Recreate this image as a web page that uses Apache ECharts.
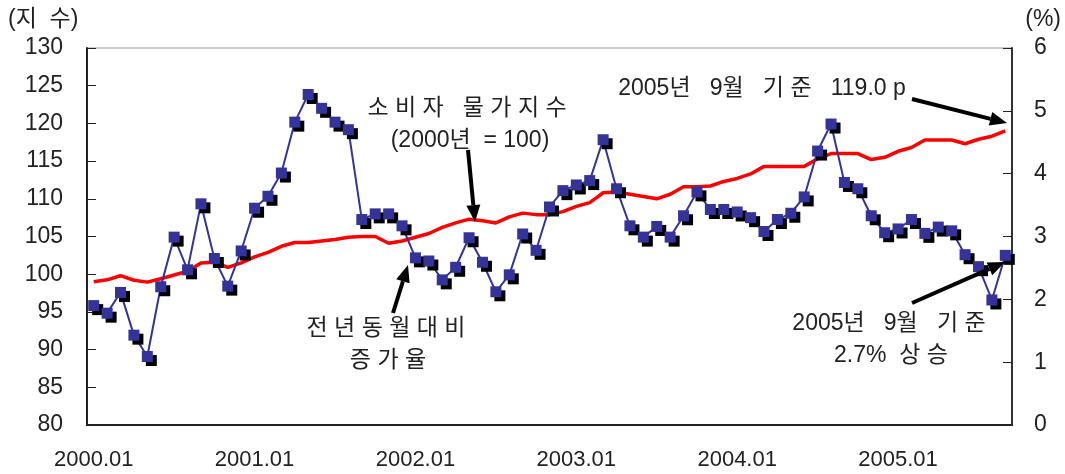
<!DOCTYPE html>
<html>
<head>
<meta charset="utf-8">
<script src="https://cdn.jsdelivr.net/npm/echarts@6/dist/echarts.min.js"></script>
<style>
  html, body { margin: 0; padding: 0; background: #fff; }
  #main { width: 1065px; height: 474px; }
</style>
</head>
<body>
<div id="main"></div>
<script>
// 월별 카테고리 2000.01 ~ 2005.09
var months = [];
for (var y = 2000; y <= 2005; y++) {
  for (var m = 1; m <= 12; m++) {
    if (y === 2005 && m > 9) break;
    months.push(y + "." + (m < 10 ? "0" + m : m));
  }
}

// 소비자 물가지수 (2000년 = 100), 좌축
var cpiIndex = [
  99.0, 99.25, 99.8, 99.2, 98.95, 99.4, 99.9, 100.4, 101.5, 101.6,
  100.9, 101.5, 102.3, 102.9, 103.7, 104.2, 104.2, 104.4, 104.6, 104.9,
  105.0, 105.0, 104.1, 104.4, 104.9, 105.4, 106.2, 106.8, 107.3, 107.1,
  106.8, 107.6, 108.1, 107.9, 107.9, 108.3, 109.0, 109.5, 110.8, 110.9,
  110.6, 110.3, 110.0, 110.6, 111.6, 111.6, 111.7, 112.3, 112.7, 113.3,
  114.3, 114.3, 114.3, 114.3, 115.3, 116.0, 116.0, 116.0, 115.2, 115.5,
  116.3, 116.8, 117.8, 117.8, 117.8, 117.3, 117.9, 118.3, 119.0
];

// 전년동월대비 증가율 (%), 우축
var yoyRate = [
  1.90, 1.78, 2.11, 1.43, 1.09, 2.20, 2.99, 2.47, 3.52, 2.65,
  2.21, 2.77, 3.45, 3.64, 4.01, 4.82, 5.26, 5.04, 4.82, 4.70,
  3.27, 3.36, 3.36, 3.17, 2.66, 2.61, 2.31, 2.51, 2.98, 2.59,
  2.12, 2.39, 3.04, 2.78, 3.47, 3.73, 3.82, 3.89, 4.54, 3.76,
  3.17, 2.99, 3.16, 2.99, 3.33, 3.71, 3.43, 3.43, 3.39, 3.30,
  3.08, 3.27, 3.37, 3.63, 4.36, 4.79, 3.86, 3.76, 3.33, 3.06,
  3.12, 3.27, 3.05, 3.15, 3.09, 2.71, 2.52, 1.99, 2.70
];

var leftTicks = { min: 80, max: 130, interval: 5 };
var rightTicks = { min: 0, max: 6, interval: 1 };

var FONT = "'Liberation Sans', 'Noto Sans CJK KR', sans-serif";
var TXT = "#222";

// 화살표 (선 + 삼각형 머리)
function arrow(x1, y1, x2, y2) {
  var dx = x2 - x1, dy = y2 - y1;
  var len = Math.sqrt(dx * dx + dy * dy);
  var ux = dx / len, uy = dy / len;
  var hl = 17, hw = 7;
  var bx = x2 - ux * hl, by = y2 - uy * hl;
  return [
    {
      type: "line",
      shape: { x1: x1, y1: y1, x2: bx, y2: by },
      style: { stroke: "#000", lineWidth: 4 },
      z: 100
    },
    {
      type: "polygon",
      shape: {
        points: [
          [x2, y2],
          [bx - uy * hw, by + ux * hw],
          [bx + uy * hw, by - ux * hw]
        ]
      },
      style: { fill: "#000" },
      z: 100
    }
  ];
}

function label(text, x, y, align) {
  return {
    type: "text",
    x: x,
    y: y,
    style: {
      text: text,
      font: "23px " + FONT,
      fill: TXT,
      align: align || "center",
      verticalAlign: "middle"
    },
    z: 100
  };
}

var chart = echarts.init(document.getElementById("main"));

var graphics = [
  label("(지  수)", 8, 20, "left"),
  label("(%)", 1061, 20, "right"),
  label("소 비 자   물 가 지 수", 467, 109),
  label("(2000년  = 100)", 470, 141),
  label("전 년 동 월 대 비", 386, 329),
  label("증 가 율", 388, 361),
  label("2005년   9월   기 준   119.0 p", 762, 89),
  label("2005년   9월   기 준", 889, 324),
  label("2.7%  상 승", 891, 356)
]
  .concat(arrow(468, 150, 475, 222))
  .concat(arrow(393, 313, 408, 265))
  .concat(arrow(912, 99, 1007, 123))
  .concat(arrow(912, 303, 1005, 262));

var option = {
  animation: false,
  grid: {
    left: 87,
    right: 53,
    top: 48,
    bottom: 49,
    show: true,
    borderColor: "#999",
    borderWidth: 1
  },
  xAxis: {
    type: "category",
    data: months,
    boundaryGap: true,
    axisLine: { lineStyle: { color: "#222", width: 2 } },
    axisTick: {
      inside: true,
      length: 8,
      interval: 11,
      lineStyle: { color: "#222", width: 1 }
    },
    axisLabel: {
      interval: 11,
      margin: 24,
      color: TXT,
      fontSize: 22,
      fontFamily: FONT
    },
    splitLine: { show: false }
  },
  yAxis: [
    {
      type: "value",
      min: leftTicks.min,
      max: leftTicks.max,
      interval: leftTicks.interval,
      axisLine: { show: true, lineStyle: { color: "#222", width: 2 } },
      axisTick: { show: true, inside: true, length: 9, lineStyle: { color: "#222" } },
      axisLabel: { margin: 24, color: TXT, fontSize: 23, fontFamily: FONT },
      splitLine: { show: false }
    },
    {
      type: "value",
      position: "right",
      min: rightTicks.min,
      max: rightTicks.max,
      interval: rightTicks.interval,
      axisLine: { show: true, lineStyle: { color: "#333", width: 2 } },
      axisTick: { show: true, inside: true, length: 9, lineStyle: { color: "#222" } },
      axisLabel: { margin: 22, color: TXT, fontSize: 23, fontFamily: FONT },
      splitLine: { show: false }
    }
  ],
  series: [
    {
      name: "소비자 물가지수",
      type: "line",
      yAxisIndex: 0,
      data: cpiIndex,
      showSymbol: false,
      symbol: "none",
      lineStyle: { color: "#ff0000", width: 3.5 },
      z: 2
    },
    {
      name: "전년동월대비 증가율",
      type: "line",
      yAxisIndex: 1,
      data: yoyRate,
      symbol: "rect",
      symbolSize: 11,
      showAllSymbol: true,
      lineStyle: { color: "#333399", width: 2 },
      itemStyle: {
        color: "#333399",
        borderWidth: 0,
        shadowColor: "#000",
        shadowBlur: 0,
        shadowOffsetX: 4,
        shadowOffsetY: 4
      },
      z: 3
    }
  ],
  graphic: graphics
};

chart.setOption(option);
</script>
</body>
</html>
